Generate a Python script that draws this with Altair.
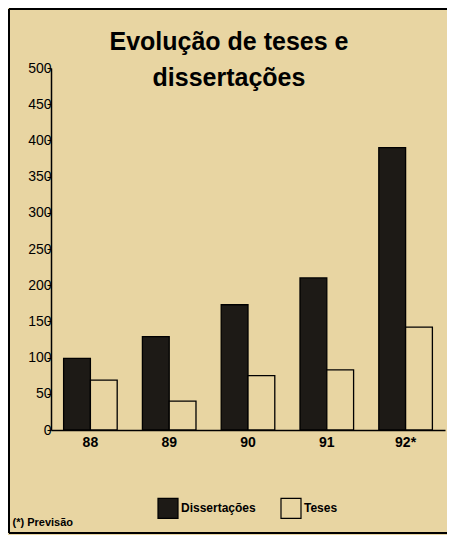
import altair as alt
import pandas as pd

years = ["88", "89", "90", "91", "92*"]
dissertacoes = [99, 129, 173, 210, 390]
teses = [69, 40, 75, 83, 142]
series = ["Dissertações", "Teses"]
y_ticks = [0, 50, 100, 150, 200, 250, 300, 350, 400, 450, 500]

BG = "#e8d5a2"
DARK = "#1d1a16"
FONT = "Liberation Sans"

rows = []
for i, yr in enumerate(years):
    rows.append({"ano": yr, "serie": series[0], "valor": dissertacoes[i]})
    rows.append({"ano": yr, "serie": series[1], "valor": teses[i]})
df = pd.DataFrame(rows)

bars = alt.Chart(df).mark_bar(stroke="black", strokeWidth=1.3).encode(
    x=alt.X("ano:N", sort=years,
            scale=alt.Scale(paddingInner=0.32, paddingOuter=0.16),
            axis=alt.Axis(title="(*) Previsão", titleX=-39, titleY=86, titleAlign="left",
                          titleAnchor="start", titleBaseline="top", titleFontSize=11,
                          titleFont=FONT, titleFontWeight="bold", titleColor="black",
                          labelAngle=0, labelFontSize=14, labelFont=FONT, labelFontWeight="bold",
                          labelColor="black", ticks=False, domainColor="black", domainWidth=1.5,
                          labelPadding=5)),
    xOffset=alt.XOffset("serie:N", sort=series),
    y=alt.Y("valor:Q", scale=alt.Scale(domain=[0, 500], nice=False),
            axis=alt.Axis(title=None, values=y_ticks, grid=False, labelFontSize=14,
                          labelFont=FONT, labelColor="black", labelPadding=-4,
                          tickSize=4, tickColor="black", domainColor="black",
                          domainWidth=1.5, labelFlush=False)),
    color=alt.Color("serie:N", sort=series,
                    scale=alt.Scale(domain=series, range=[DARK, BG]),
                    legend=alt.Legend(title=None, orient="none", direction="horizontal",
                                      legendX=106, legendY=429, symbolType="square",
                                      symbolSize=400, symbolStrokeColor="black",
                                      symbolStrokeWidth=1.2, symbolOpacity=1,
                                      labelFont=FONT, labelFontSize=12, labelFontWeight="bold",
                                      labelColor="black", columnPadding=22, labelOffset=2)),
)

frame_df = pd.DataFrame({"k": [1]})
top_line = alt.Chart(frame_df).mark_rule(color="black", strokeWidth=2).encode(
    x=alt.value(-42), x2=alt.value(400), y=alt.value(-59))
left_line = alt.Chart(frame_df).mark_rule(color="black", strokeWidth=2).encode(
    x=alt.value(-42), y=alt.value(-59), y2=alt.value(465))
bottom_line = alt.Chart(frame_df).mark_rule(color="black", strokeWidth=2).encode(
    x=alt.value(-42), x2=alt.value(400), y=alt.value(465))

chart = alt.layer(bars, top_line, left_line, bottom_line).properties(
    width=394, height=362,
    autosize=alt.AutoSizeParams(type="none"),
    padding={"left": 43, "top": 60, "right": 2, "bottom": 105},
    background=BG,
    title=alt.TitleParams(["Evolução de teses e", "dissertações"], font=FONT, fontSize=25,
                          fontWeight="bold", color="black", anchor="middle", frame="group",
                          offset=-20, dx=-19, dy=63, lineHeight=36),
).configure_view(stroke=None)

chart.save("out.html", embed_options={"renderer": "svg", "actions": False})
